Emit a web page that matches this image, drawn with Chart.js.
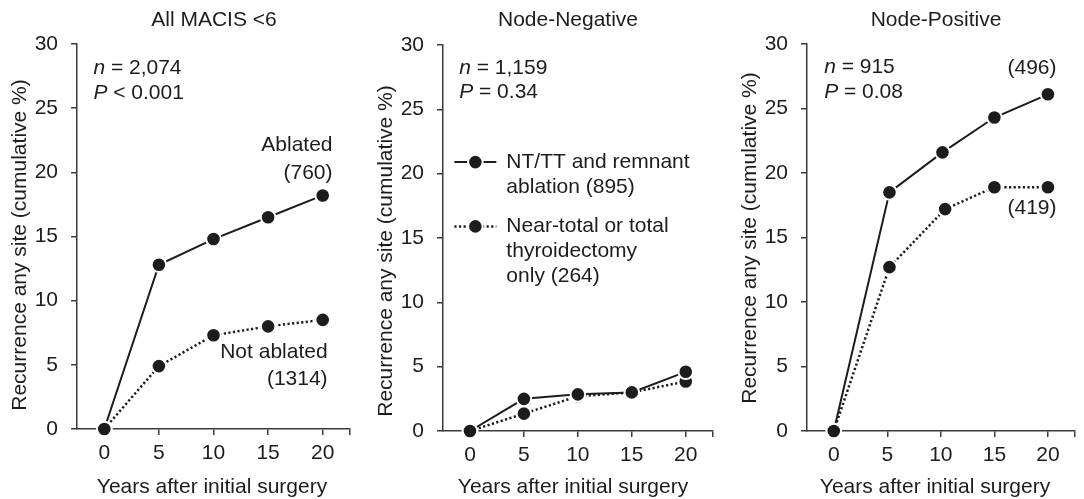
<!DOCTYPE html>
<html>
<head>
<meta charset="utf-8">
<script src="https://cdn.jsdelivr.net/npm/chart.js@4.4.1/dist/chart.umd.min.js"></script>
<style>
  html, body { margin: 0; padding: 0; background: #fff; }
  .wrap { position: relative; width: 1084px; height: 499px; }
  .panel { position: absolute; top: 0; height: 499px; }
</style>
</head>
<body>
<div class="wrap">
  <div class="panel" style="left:0;width:361px"><canvas id="allChart"></canvas></div>
  <div class="panel" style="left:361px;width:361px"><canvas id="negChart"></canvas></div>
  <div class="panel" style="left:722px;width:362px"><canvas id="posChart"></canvas></div>
</div>
<script>
// ===== DATA =====
const years = [0, 5, 10, 15, 20];
const xTicks = [0, 5, 10, 15, 20, 22.5];

// All MACIS <6
const allAblated    = [0, 12.8, 14.8, 16.5, 18.2];
const allNotAblated = [0, 4.9, 7.3, 8.0, 8.5];

// Node-negative
const negAblated    = [0, 2.5, 2.85, 3.0, 4.6];
const negNotAblated = [0, 1.35, 2.7, 3.0, 3.85];

// Node-positive (points sit a little off the ticks in the original)
const posYearsAblated    = [0, 5.2, 10.15, 15, 20];
const posYearsNotAblated = [0, 5.2, 10.4, 15, 20];
const posAblated    = [0, 18.5, 21.6, 24.3, 26.1];
const posNotAblated = [0, 12.7, 17.2, 18.9, 18.9];

// text notes: [text, x, y, align]  (*..* = italic)
const allNotes = [
  ['*n* = 2,074', -1.0, 28.1, 'left'],
  ['*P* < 0.001', -1.0, 26.2, 'left'],
  ['Ablated', 20.9, 22.1, 'right'],
  ['(760)', 20.9, 19.9, 'right'],
  ['Not ablated', 20.45, 6.0, 'right'],
  ['(1314)', 20.45, 3.9, 'right']
];
const negNotes = [
  ['*n* = 1,159', -1.0, 28.2, 'left'],
  ['*P* = 0.34', -1.0, 26.3, 'left']
];
const posNotes = [
  ['*n* = 915', -0.9, 28.2, 'left'],
  ['*P* = 0.08', -0.9, 26.3, 'left'],
  ['(496)', 20.8, 28.1, 'right'],
  ['(419)', 20.8, 17.3, 'right']
];

// legend rows for the middle panel: [dataset, marker x, y, lines]
const negLegend = [
  [0, 0.5, 20.9, ['NT/TT and remnant', 'ablation (895)']],
  [1, 0.5, 15.9, ['Near-total or total', 'thyroidectomy', 'only (264)']]
];


// ===== STYLE =====
const FONT = '"Liberation Sans", Arial, Helvetica, sans-serif';
const INK = '#1c1c1c';
const AXIS = '#3a3a3a';
const SIZE = 21;


// ===== TEXT HELPERS =====
function drawRich(ctx, str, x, y, align) {
  const parts = str.split('*').map((t, i) => ({ t, italic: i % 2 === 1 })).filter(p => p.t);
  let total = 0;
  parts.forEach(p => {
    ctx.font = (p.italic ? 'italic ' : '') + SIZE + 'px ' + FONT;
    p.w = ctx.measureText(p.t).width;
    total += p.w;
  });
  let cx = align === 'right' ? x - total : align === 'center' ? x - total / 2 : x;
  ctx.textAlign = 'left';
  ctx.textBaseline = 'middle';
  parts.forEach(p => {
    ctx.font = (p.italic ? 'italic ' : '') + SIZE + 'px ' + FONT;
    ctx.fillText(p.t, cx, y);
    cx += p.w;
  });
}

function drawMarker(ctx, x, y) {
  ctx.setLineDash([]);
  ctx.beginPath();
  ctx.arc(x, y, 7.3, 0, Math.PI * 2);
  ctx.fillStyle = INK;
  ctx.fill();
  ctx.lineWidth = 2;
  ctx.strokeStyle = '#fff';
  ctx.stroke();
}

const textPlugin = {
  id: 'panelText',
  afterDraw(chart, args, opts) {
    const ctx = chart.ctx;
    const xs = chart.scales.x, ys = chart.scales.y;
    ctx.save();
    ctx.fillStyle = INK;

    drawRich(ctx, opts.title, opts.titleX, 20, 'center');
    drawRich(ctx, 'Years after initial surgery', opts.xTitleX, 487, 'center');

    ctx.save();
    ctx.translate(opts.yTitleX, opts.yTitleY);
    ctx.rotate(-Math.PI / 2);
    drawRich(ctx, 'Recurrence any site (cumulative %)', 0, 0, 'center');
    ctx.restore();

    (opts.notes || []).forEach(([t, x, y, align]) => {
      ctx.fillStyle = INK;
      drawRich(ctx, t, xs.getPixelForValue(x), ys.getPixelForValue(y), align);
    });

    (opts.legend || []).forEach(([di, x, y, lines]) => {
      const ds = chart.data.datasets[di];
      const px = xs.getPixelForValue(x), py = ys.getPixelForValue(y);
      ctx.strokeStyle = INK;
      ctx.lineWidth = ds.borderWidth;
      ctx.setLineDash(ds.borderDash || []);
      ctx.beginPath();
      ctx.moveTo(px - 21, py);
      ctx.lineTo(px + 21, py);
      ctx.stroke();
      drawMarker(ctx, px, py);
      ctx.fillStyle = INK;
      lines.forEach((line, i) => drawRich(ctx, line, px + 31, py + i * 25, 'left'));
    });
    ctx.restore();
  }
};


// ===== PANEL BUILDER =====
function series(label, xs, ys, dotted) {
  return {
    label: label,
    data: xs.map((x, i) => ({ x: x, y: ys[i] })),
    borderColor: INK,
    borderWidth: dotted ? 2.5 : 2,
    borderDash: dotted ? [2.2, 2.4] : [],
    pointRadius: 7.3,
    pointHoverRadius: 7.3,
    pointBorderWidth: 2,
    pointBackgroundColor: INK,
    pointBorderColor: '#fff',
    tension: 0,
    fill: false,
    clip: false
  };
}

function makePanel(id, datasets, box, text) {
  const tickFont = { family: FONT, size: SIZE };
  new Chart(document.getElementById(id), {
    type: 'line',
    data: { datasets: datasets },
    options: {
      responsive: true,
      maintainAspectRatio: false,
      animation: false,
      layout: { padding: { top: box.top, right: box.right, left: 0, bottom: 0 } },
      plugins: {
        legend: { display: false },
        tooltip: { enabled: false },
        panelText: text
      },
      scales: {
        x: {
          type: 'linear',
          min: -2.5,
          max: 22.5,
          afterBuildTicks: s => { s.ticks = xTicks.map(v => ({ value: v })); },
          afterFit: s => { s.height = 499 - box.bottom; s.paddingLeft = 0; s.paddingRight = 0; },
          ticks: {
            autoSkip: false,
            maxRotation: 0,
            padding: 6,
            color: INK,
            font: tickFont,
            callback: v => (v > 20 ? '' : v)
          },
          grid: { drawOnChartArea: false, tickLength: 6, color: AXIS, lineWidth: 1.5 },
          border: { color: AXIS, width: 1.5 }
        },
        y: {
          min: 0,
          max: 30,
          afterFit: s => { s.width = box.left; s.paddingTop = 0; s.paddingBottom = 0; },
          ticks: { stepSize: 5, padding: 13, color: INK, font: tickFont },
          grid: { drawOnChartArea: false, tickLength: 6, color: AXIS, lineWidth: 1.5 },
          border: { color: AXIS, width: 1.5 }
        }
      }
    },
    plugins: [textPlugin]
  });
}


// ===== ALL MACIS <6 =====
makePanel('allChart', [
  series('Ablated (760)', years, allAblated, false),
  series('Not ablated (1314)', years, allNotAblated, true)
], { left: 77, right: 11, top: 44, bottom: 429 }, {
  title: 'All MACIS <6', titleX: 214, xTitleX: 212, yTitleX: 20, yTitleY: 245, notes: allNotes
});

// ===== NODE-NEGATIVE =====
makePanel('negChart', [
  series('NT/TT and remnant ablation (895)', years, negAblated, false),
  series('Near-total or total thyroidectomy only (264)', years, negNotAblated, true)
], { left: 82, right: 6, top: 45, bottom: 431 }, {
  title: 'Node-Negative', titleX: 207, xTitleX: 212, yTitleX: 25, yTitleY: 251, notes: negNotes, legend: negLegend
});

// ===== NODE-POSITIVE =====
makePanel('posChart', [
  series('Ablated (496)', posYearsAblated, posAblated, false),
  series('Not ablated (419)', posYearsNotAblated, posNotAblated, true)
], { left: 85, right: 4, top: 44, bottom: 431 }, {
  title: 'Node-Positive', titleX: 214, xTitleX: 213, yTitleX: 28, yTitleY: 238, notes: posNotes
});
</script>
</body>
</html>
